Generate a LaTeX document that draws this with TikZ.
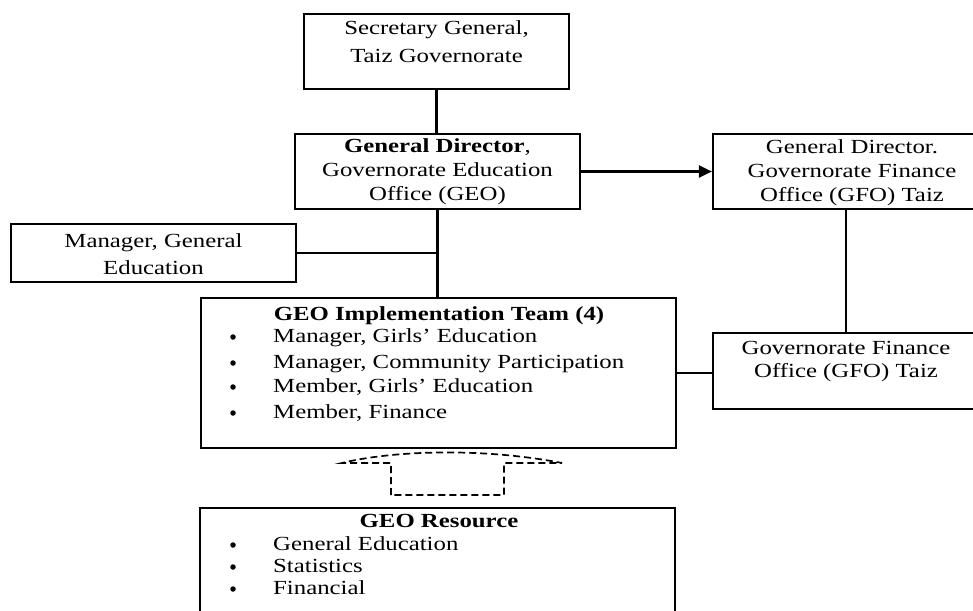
\documentclass[tikz,border=0pt]{standalone}
\usepackage{fontspec}
\setmainfont{Liberation Serif}[FakeStretch=1.24]
\usetikzlibrary{arrows.meta}
\begin{document}
\begin{tikzpicture}[x=1pt,y=-1pt,
  box/.style={draw,line width=2.2pt,rectangle,inner sep=0pt},
  txt/.style={inner sep=0pt,align=center},
  conn/.style={line width=2.2pt},
  item/.style={inner sep=0pt,anchor=base west,font=\fontsize{20}{24}\selectfont},
  bul/.style={circle,fill=black,inner sep=0pt,minimum size=5.5pt},
  ttl/.style={inner sep=0pt,anchor=base,font=\fontsize{20}{24}\selectfont\bfseries},
]
\useasboundingbox (0,0) rectangle (973,610);
\fill[white] (0,0) rectangle (973,610);
\clip (0,0) rectangle (973,610);

% boxes
\node[box,minimum width=265pt,minimum height=75pt] (sec) at (436.5,51.5) {};
\node[box,minimum width=285pt,minimum height=75pt] (gd) at (437.5,171.5) {};
\node[box,minimum width=278pt,minimum height=75pt] (gfo1) at (852,171.5) {};
\node[box,minimum width=285pt,minimum height=58pt] (mgr) at (153.5,253) {};
\node[box,minimum width=475pt,minimum height=150pt] (impl) at (438.5,373) {};
\node[box,minimum width=266pt,minimum height=76pt] (gfo2) at (846,371) {};
\node[box,minimum width=475pt,minimum height=134pt] (res) at (437.5,575) {};

% texts
\node[txt,font=\fontsize{20}{28}\selectfont] (sect) at (436.5,42) {Secretary General,\\Taiz Governorate};
\node[txt,font=\fontsize{20}{24}\selectfont] (gdt) at (437.5,172) {\textbf{General Director},\\Governorate Education\\Office (GEO)};
\node[txt,font=\fontsize{20}{24}\selectfont] (gfo1t) at (852,173) {General Director.\\Governorate Finance\\Office (GFO) Taiz};
\node[txt,font=\fontsize{20}{27}\selectfont] (mgrt) at (153.5,254) {Manager, General\\Education};
\node[txt,font=\fontsize{20}{23}\selectfont] (gfo2t) at (846,362) {Governorate Finance\\Office (GFO) Taiz};

\node[ttl] (implt) at (439,320) {GEO Implementation Team (4)};
\node[bul] (ib1) at (233,337) {};
\node[bul] (ib2) at (233,363) {};
\node[bul] (ib3) at (233,387) {};
\node[bul] (ib4) at (233,413) {};
\node[item] (ii1) at (273,342) {Manager, Girls’ Education};
\node[item] (ii2) at (273,368) {Manager, Community Participation};
\node[item] (ii3) at (273,392) {Member, Girls’ Education};
\node[item] (ii4) at (273,418) {Member, Finance};

\node[ttl] (rest) at (439,527) {GEO Resource};
\node[bul] (rb1) at (233,545) {};
\node[bul] (rb2) at (233,567) {};
\node[bul] (rb3) at (233,589) {};
\node[item] (ri1) at (273,550) {General Education};
\node[item] (ri2) at (273,572) {Statistics};
\node[item] (ri3) at (273,594) {Financial};

% connectors
\draw[conn] (sec.south) -- (sec.south |- gd.north);
\draw[conn] (gd.south) -- (gd.south |- impl.north);
\coordinate (j) at (gd.south |- mgr.east);
\draw[conn] (mgr.east) -- (j);
\draw[conn,-{Triangle[length=13pt,width=12pt]}] (gd.east) -- (gfo1.west);
\draw[conn] (gfo2.north) -- (gfo2.north |- gfo1.south);
\draw[conn] (impl.east) -- (impl.east -| gfo2.west);

% dashed block arrow
\draw[line width=1.7pt,dash pattern=on 7pt off 4pt]
  (391,495) -- (391,463) -- (342,463) .. controls (390,451) and (480,447) .. (562,463)
  -- (504,463) -- (504,495) -- cycle;
\end{tikzpicture}
\end{document}
